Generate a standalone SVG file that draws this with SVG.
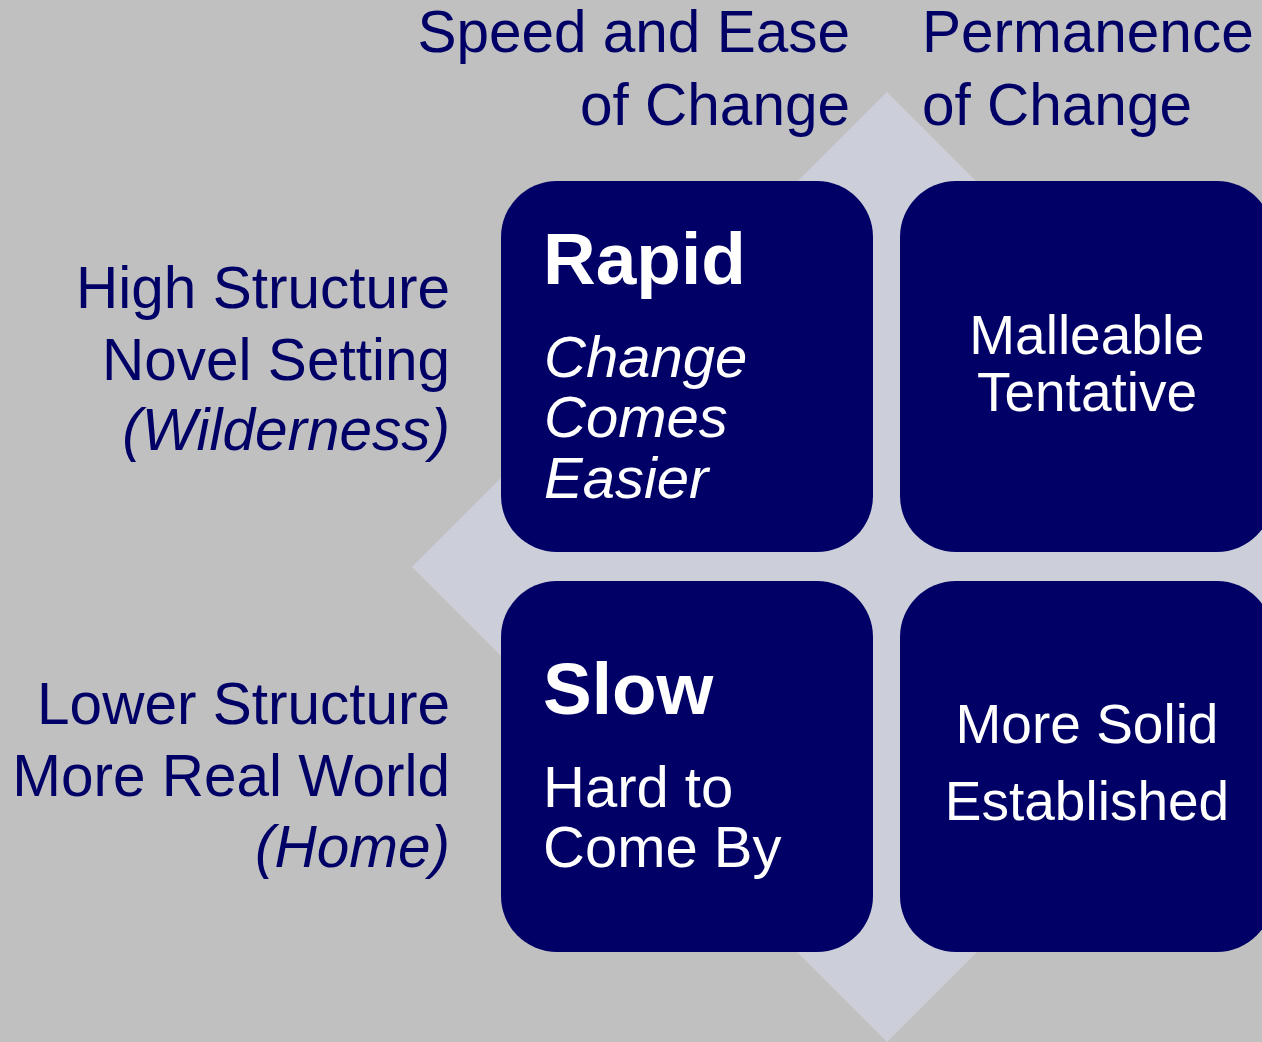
<svg xmlns="http://www.w3.org/2000/svg" width="1262" height="1042" viewBox="0 0 1262 1042">
<style>
text{font-family:"Liberation Sans",Arial,sans-serif}
.lbl{fill:#000066;font-size:58.5px}
.box{fill:#000066}
.w{fill:#ffffff}
.it{font-style:italic}
.b{font-weight:bold}
</style>
<rect x="0" y="0" width="1262" height="1042" fill="#c0c0c0"/>
<polygon id="diamond" points="887,92 1362,567 887,1042 412,567" fill="#cccfd9"/>
<g id="connectors"></g>
<g id="header-speed">
<text class="lbl" x="850" y="52" text-anchor="end">Speed and Ease</text>
<text class="lbl" x="850" y="125" text-anchor="end">of Change</text>
</g>
<g id="header-permanence">
<text class="lbl" x="922" y="52">Permanence</text>
<text class="lbl" x="922" y="125">of Change</text>
</g>
<g id="row-high">
<text class="lbl" x="450" y="308" text-anchor="end">High Structure</text>
<text class="lbl" x="450" y="380" text-anchor="end">Novel Setting</text>
<text class="lbl it" x="450" y="450" text-anchor="end">(Wilderness)</text>
</g>
<g id="row-low">
<text class="lbl" x="450" y="724" text-anchor="end">Lower Structure</text>
<text class="lbl" x="450" y="796" text-anchor="end">More Real World</text>
<text class="lbl it" x="450" y="867" text-anchor="end">(Home)</text>
</g>
<g id="box-rapid">
<rect class="box" x="501" y="181" width="372" height="371" rx="56"/>
<text class="w b" x="543" y="284" font-size="73">Rapid</text>
<text class="w it" x="544" y="377" font-size="58">Change</text>
<text class="w it" x="544" y="437" font-size="58">Comes</text>
<text class="w it" x="544" y="498" font-size="58">Easier</text>
</g>
<g id="box-malleable">
<rect class="box" x="900" y="181" width="373" height="371" rx="56"/>
<text class="w" x="1087" y="354" font-size="55" text-anchor="middle">Malleable</text>
<text class="w" x="1087" y="411" font-size="55" text-anchor="middle">Tentative</text>
</g>
<g id="box-slow">
<rect class="box" x="501" y="581" width="372" height="371" rx="56"/>
<text class="w b" x="543" y="714" font-size="73">Slow</text>
<text class="w" x="543" y="807" font-size="58">Hard to</text>
<text class="w" x="543" y="867" font-size="58">Come By</text>
</g>
<g id="box-solid">
<rect class="box" x="900" y="581" width="373" height="371" rx="56"/>
<text class="w" x="1087" y="743" font-size="55" text-anchor="middle">More Solid</text>
<text class="w" x="1087" y="820" font-size="55" text-anchor="middle">Established</text>
</g>
</svg>
